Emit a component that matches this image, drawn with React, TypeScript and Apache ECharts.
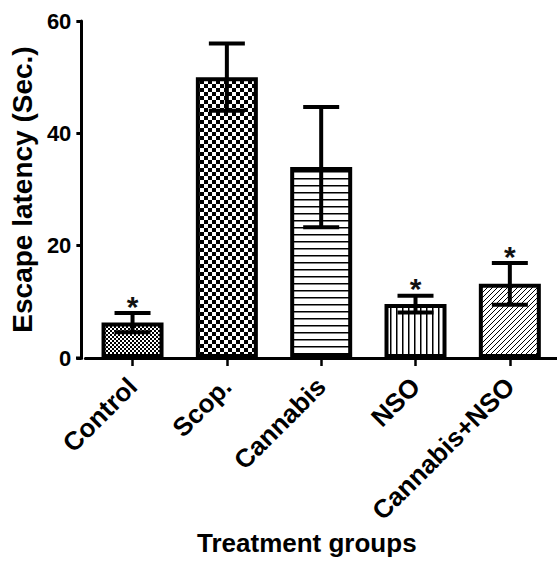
import React, { useEffect, useRef } from "react";
import * as echarts from "echarts";

const categories = ["Control", "Scop.", "Cannabis", "NSO", "Cannabis+NSO"];
const means = [6.3, 50.0, 34.0, 9.6, 13.2];
const sems = [1.7, 6.0, 10.7, 1.5, 3.7];
const marks = ["*", "", "", "*", "*"];
const yMin = 0;
const yMax = 60;
const yStep = 20;

const FONT = "'Liberation Sans', Arial, sans-serif";

type Drawer = (ctx: CanvasRenderingContext2D, w: number, h: number) => void;

function makePattern(w: number, h: number, draw: Drawer) {
  const c = document.createElement("canvas");
  c.width = w;
  c.height = h;
  const ctx = c.getContext("2d") as CanvasRenderingContext2D;
  ctx.fillStyle = "#fff";
  ctx.fillRect(0, 0, w, h);
  ctx.fillStyle = "#000";
  ctx.strokeStyle = "#000";
  draw(ctx, w, h);
  return { image: c.toDataURL(), repeat: "repeat", imageWidth: w, imageHeight: h };
}

export default function App() {
  const ref = useRef<HTMLDivElement>(null);

  useEffect(() => {
    if (!ref.current) return;
    const chart = echarts.init(ref.current, undefined, { renderer: "svg" });

    const patterns = [
      makePattern(4, 4, (ctx) => {
        ctx.fillRect(0, 0, 2, 2);
        ctx.fillRect(2, 2, 2, 2);
      }),
      makePattern(8, 8, (ctx) => {
        ctx.fillRect(0, 0, 4, 4);
        ctx.fillRect(4, 4, 4, 4);
      }),
      makePattern(4, 7, (ctx, w) => {
        ctx.fillRect(0, 3, w, 1.5);
      }),
      makePattern(6, 4, (ctx, w, h) => {
        ctx.fillRect(0, 0, 1.5, h);
      }),
      makePattern(5, 5, (ctx) => {
        ctx.lineWidth = 1;
        ctx.beginPath();
        ctx.moveTo(-1, 6);
        ctx.lineTo(6, -1);
        ctx.moveTo(-1, 1);
        ctx.lineTo(1, -1);
        ctx.moveTo(4, 6);
        ctx.lineTo(6, 4);
        ctx.stroke();
      }),
    ];

    const barData = means.map((m, i) => ({
      value: m,
      itemStyle: { color: patterns[i] as any },
    }));

    const errData = categories.map((_, i) => [i, means[i], sems[i], i]);

    const option: any = {
      animation: false,
      backgroundColor: "#fff",
      grid: { left: 81, right: -2, top: 21, bottom: 203, containLabel: false },
      xAxis: {
        type: "category",
        data: categories,
        axisLine: { show: true, lineStyle: { color: "#000", width: 3 } },
        axisTick: { show: true, alignWithLabel: true, length: 8, lineStyle: { color: "#000", width: 2.5 } },
        axisLabel: {
          interval: 0,
          rotate: 45,
          margin: 24,
          color: "#000",
          fontFamily: FONT,
          fontWeight: "bold",
          fontSize: 26,
        },
      },
      yAxis: {
        type: "value",
        min: yMin,
        max: yMax,
        interval: yStep,
        offset: 4,
        name: "Escape latency (Sec.)",
        nameLocation: "middle",
        nameGap: 44,
        nameTextStyle: { color: "#000", fontFamily: FONT, fontWeight: "bold", fontSize: 28 },
        axisLine: { show: true, lineStyle: { color: "#000", width: 3 } },
        axisTick: { show: true, length: 5, lineStyle: { color: "#000", width: 3 } },
        axisLabel: { margin: 10, color: "#000", fontFamily: FONT, fontWeight: "bold", fontSize: 22 },
        splitLine: { show: false },
      },
      graphic: [
        {
          type: "line",
          shape: { x1: 76, y1: 358, x2: 83, y2: 358 },
          style: { stroke: "#000", lineWidth: 3 },
          z: 100,
        },
        {
          type: "text",
          left: 197,
          top: 530,
          style: { text: "Treatment groups", fill: "#000", font: `bold 26px ${FONT}` },
        },
      ],
      series: [
        {
          type: "bar",
          data: barData,
          barWidth: 62,
          itemStyle: { borderColor: "#000", borderWidth: 4 },
          z: 2,
        },
        {
          type: "custom",
          z: 5,
          data: errData,
          encode: { x: 0, y: 1 },
          renderItem: (params: any, api: any) => {
            const i = api.value(0);
            const m = api.value(1);
            const e = api.value(2);
            const top = api.coord([i, m + e]);
            const bot = api.coord([i, m - e]);
            const half = 18;
            const style = { stroke: "#000", lineWidth: 4 };
            const children: any[] = [
              { type: "line", shape: { x1: top[0], y1: top[1], x2: bot[0], y2: bot[1] }, style },
              { type: "line", shape: { x1: top[0] - half, y1: top[1], x2: top[0] + half, y2: top[1] }, style },
              { type: "line", shape: { x1: bot[0] - half, y1: bot[1], x2: bot[0] + half, y2: bot[1] }, style },
            ];
            const mk = marks[params.dataIndex];
            if (mk) {
              children.push({
                type: "text",
                x: top[0],
                y: top[1] - 7,
                style: {
                  text: mk,
                  fill: "#111",
                  font: `bold 30px ${FONT}`,
                  textAlign: "center",
                  textVerticalAlign: "middle",
                },
              });
            }
            return { type: "group", children };
          },
        },
      ],
    };

    chart.setOption(option);
    return () => chart.dispose();
  }, []);

  return (
    <div
      ref={ref}
      style={{ position: "fixed", left: 0, top: 0, width: 557, height: 561, background: "#fff" }}
    />
  );
}
